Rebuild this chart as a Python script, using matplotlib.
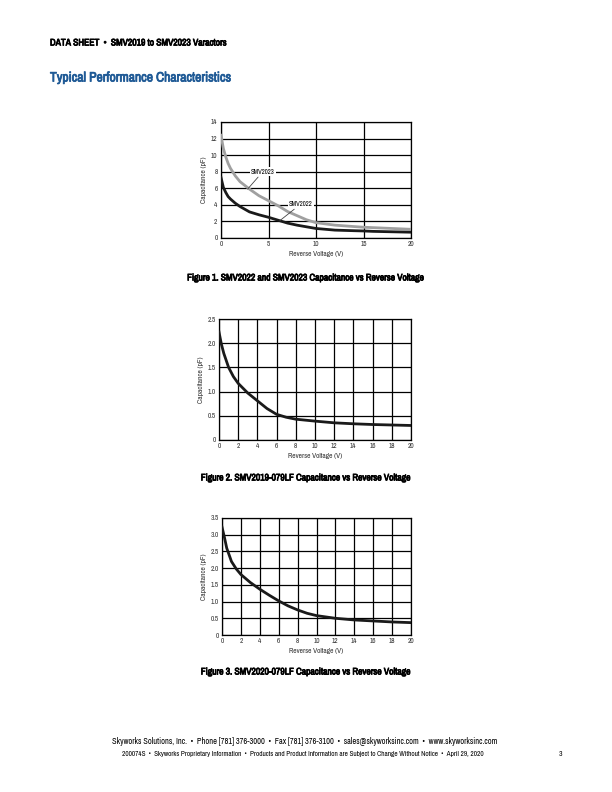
import matplotlib
matplotlib.use("Agg")
import matplotlib.pyplot as plt
import matplotlib.patheffects as pe

plt.rcParams['font.family'] = ['Archivo Narrow', 'Liberation Sans', 'DejaVu Sans']

# ---- data ----
v1 = [0, 0.25, 0.5, 0.75, 1, 1.5, 2, 3, 4, 5, 6, 7, 8, 9, 10, 12, 14, 15, 16, 18, 20]
c_smv2023 = [12.4, 10.8, 9.8, 9.0, 8.4, 7.5, 6.8, 5.9, 5.1, 4.5, 3.9, 3.2, 2.7, 2.2, 1.85, 1.55, 1.38, 1.3, 1.25, 1.15, 1.05]
c_smv2022 = [7.3, 6.1, 5.5, 5.0, 4.7, 4.2, 3.8, 3.15, 2.8, 2.5, 2.15, 1.8, 1.55, 1.35, 1.15, 0.95, 0.88, 0.85, 0.8, 0.75, 0.7]

v2 = [0, 0.25, 0.5, 1, 1.5, 2, 3, 4, 5, 6, 7, 8, 10, 12, 14, 16, 18, 20]
c_smv2019 = [2.23, 1.98, 1.79, 1.50, 1.31, 1.17, 0.97, 0.81, 0.65, 0.53, 0.47, 0.43, 0.39, 0.355, 0.335, 0.32, 0.31, 0.30]

v3 = [0, 0.25, 0.5, 1, 1.5, 2, 3, 4, 5, 6, 7, 8, 9, 10, 12, 14, 16, 18, 20]
c_smv2020 = [3.23, 2.93, 2.6, 2.2, 1.98, 1.81, 1.57, 1.37, 1.19, 1.02, 0.87, 0.75, 0.65, 0.58, 0.5, 0.45, 0.42, 0.39, 0.37]

W, H = 612, 792
fig = plt.figure(figsize=(W/100, H/100), dpi=100)

def ax_at(l, t, r, b):
    return fig.add_axes([l/W, 1 - b/H, (r-l)/W, (b-t)/H])

def style(ax, xt, yt, ylabels):
    ax.set_xlim(0, 20)
    ax.set_xticks(xt)
    ax.set_ylim(yt[0], yt[-1])
    ax.set_yticks(yt)
    ax.set_yticklabels(ylabels)
    ax.grid(True, color='black', linewidth=0.9)
    ax.set_axisbelow(True)
    for s in ax.spines.values():
        s.set_linewidth(0.9)
    ax.tick_params(labelsize=5.2, length=0, pad=2.5, colors='#333333')
    ax.set_xlabel('Reverse Voltage (V)', fontsize=5.3, labelpad=2.5, color='#333333')
    ax.set_ylabel('Capacitance (pF)', fontsize=5.3, labelpad=2.5, color='#333333')

# Figure 1
ax1 = ax_at(221, 122, 411, 238)
style(ax1, [0, 5, 10, 15, 20], [0, 2, 4, 6, 8, 10, 12, 14], ['0', '2', '4', '6', '8', '10', '12', '14'])
ax1.plot(v1, c_smv2023, color='#a0a0a0', lw=2, zorder=3)
ax1.plot(v1, c_smv2022, color='#1a1a1a', lw=2, zorder=4)
ax1.annotate('SMV2023', xy=(2.8, 5.9), xytext=(4.4, 8.0), fontsize=4.8, ha='center', va='center',
             bbox=dict(boxstyle='square,pad=0.2', fc='white', ec='none'),
             arrowprops=dict(arrowstyle='-', color='#444444', lw=0.6, shrinkA=1, shrinkB=0), zorder=5)
ax1.annotate('SMV2022', xy=(6.2, 2.1), xytext=(8.4, 4.1), fontsize=4.8, ha='center', va='center',
             bbox=dict(boxstyle='square,pad=0.2', fc='white', ec='none'),
             arrowprops=dict(arrowstyle='-', color='#444444', lw=0.6, shrinkA=1, shrinkB=0), zorder=5)

# Figure 2
ax2 = ax_at(219, 319, 411, 440)
style(ax2, list(range(0, 21, 2)), [0, 0.5, 1.0, 1.5, 2.0, 2.5], ['0', '0.5', '1.0', '1.5', '2.0', '2.5'])
ax2.plot(v2, c_smv2019, color='#1a1a1a', lw=2, zorder=4)

# Figure 3
ax3 = ax_at(222, 518, 411, 635)
style(ax3, list(range(0, 21, 2)), [0, 0.5, 1.0, 1.5, 2.0, 2.5, 3.0, 3.5], ['0', '0.5', '1.0', '1.5', '2.0', '2.5', '3.0', '3.5'])
ax3.plot(v3, c_smv2020, color='#1a1a1a', lw=2, zorder=4)

def T(x, y, s, bold=False, color='black', **kw):
    t = fig.text(x/W, 1 - y/H, s, color=color, fontweight='bold' if bold else 'normal', **kw)
    if bold:
        t.set_path_effects([pe.withStroke(linewidth=0.55, foreground=color)])
    return t

T(50, 43, 'DATA SHEET  \u2022  SMV2019 to SMV2023 Varactors', bold=True, fontsize=6.9, va='center')
T(50, 78, 'Typical Performance Characteristics', bold=True, fontsize=9.8, color='#1f5a96', va='center')
T(306, 278, 'Figure 1. SMV2022 and SMV2023 Capacitance vs Reverse Voltage', bold=True, fontsize=6.9, ha='center', va='center')
T(306, 478, 'Figure 2. SMV2019-079LF Capacitance vs Reverse Voltage', bold=True, fontsize=6.9, ha='center', va='center')
T(306, 672, 'Figure 3. SMV2020-079LF Capacitance vs Reverse Voltage', bold=True, fontsize=6.9, ha='center', va='center')
T(305, 741, 'Skyworks Solutions, Inc.  \u2022  Phone [781] 376-3000  \u2022  Fax [781] 376-3100  \u2022  sales@skyworksinc.com  \u2022  www.skyworksinc.com',
  fontsize=6, ha='center', va='center')
T(303, 754, '200074S  \u2022  Skyworks Proprietary Information  \u2022  Products and Product Information are Subject to Change Without Notice  \u2022  April 29, 2020',
  fontsize=5.2, ha='center', va='center')
T(560, 754, '3', fontsize=5.5, ha='center', va='center')

fig.savefig('out.png', dpi=100)
